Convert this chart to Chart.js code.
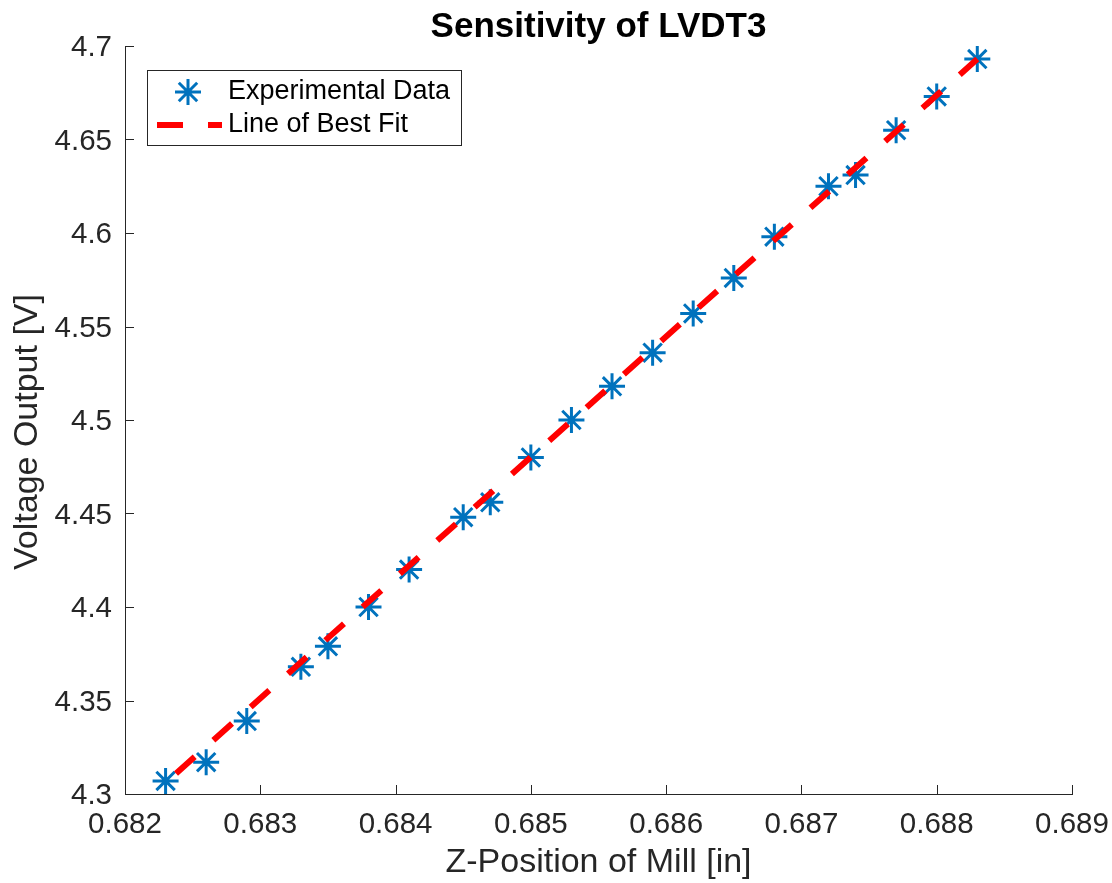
<!DOCTYPE html>
<html>
<head>
<meta charset="utf-8">
<title>Sensitivity of LVDT3</title>
<script src="https://cdn.jsdelivr.net/npm/chart.js@4.4.0/dist/chart.umd.min.js"></script>
<style>
    html, body { margin: 0; padding: 0; background: #fff; }
    #wrap { width: 1112px; height: 883px; }
</style>
</head>
<body>
<div id="wrap"><canvas id="lvdtChart"></canvas></div>
<script>
// Measured points: Z-position of the mill [in] vs LVDT3 output [V]
const zPosition = [0.6823, 0.6826, 0.6829, 0.6833, 0.6835, 0.6838, 0.6841, 0.6845, 0.6847, 0.6850, 0.6853,
                   0.6856, 0.6859, 0.6862, 0.6865, 0.6868, 0.6872, 0.6874, 0.6877, 0.6880, 0.6883];
const voltage = [4.307, 4.317, 4.339, 4.368, 4.379, 4.400, 4.420, 4.448, 4.456, 4.480, 4.500,
                 4.518, 4.536, 4.557, 4.576, 4.598, 4.625, 4.631, 4.655, 4.673, 4.693];

// Line of best fit (end points)
const fitZ = [0.6823, 0.6883];
const fitV = [4.306, 4.693];

// Axis ticks
const xTicks = [0.682, 0.683, 0.684, 0.685, 0.686, 0.687, 0.688, 0.689];
const yTicks = [4.3, 4.35, 4.4, 4.45, 4.5, 4.55, 4.6, 4.65, 4.7];

const FONT = "'Liberation Sans', Arial, Helvetica, sans-serif";
const AXIS_COLOR = '#262626';
const BLUE = '#0072BD';
const RED = '#FF0000';

// MATLAB style tick marks pointing into the plot
const insideTicks = {
    id: 'insideTicks',
    afterDraw(chart) {
        const { ctx, chartArea } = chart;
        const xs = chart.scales.x;
        const ys = chart.scales.y;
        ctx.save();
        ctx.strokeStyle = AXIS_COLOR;
        ctx.lineWidth = 1;
        ctx.beginPath();
        for (const v of xTicks) {
            const px = Math.round(xs.getPixelForValue(v)) + 0.5;
            ctx.moveTo(px, chartArea.bottom);
            ctx.lineTo(px, chartArea.bottom - 9);
        }
        for (const v of yTicks) {
            const py = Math.round(ys.getPixelForValue(v)) + 0.5;
            ctx.moveTo(chartArea.left, py);
            ctx.lineTo(chartArea.left + 9, py);
        }
        ctx.stroke();

        // y axis label, sits a little below the middle of the axis like the original
        ctx.fillStyle = AXIS_COLOR;
        ctx.font = '34px ' + FONT;
        ctx.textAlign = 'center';
        ctx.textBaseline = 'middle';
        ctx.translate(28, (chartArea.top + chartArea.bottom) / 2 + 12);
        ctx.rotate(-Math.PI / 2);
        ctx.fillText('Voltage Output [V]', 0, 0);
        ctx.restore();
    }
};

// Boxed legend in the upper left corner
const boxLegend = {
    id: 'boxLegend',
    afterDraw(chart) {
        const ctx = chart.ctx;
        const left = 147, top = 70, w = 314, h = 75;
        ctx.save();
        ctx.fillStyle = '#fff';
        ctx.fillRect(left, top, w, h);
        ctx.strokeStyle = AXIS_COLOR;
        ctx.lineWidth = 1;
        ctx.strokeRect(left + 0.5, top + 0.5, w, h);

        // asterisk marker
        ctx.strokeStyle = BLUE;
        ctx.lineWidth = 3;
        Chart.helpers.drawPoint(ctx, { pointStyle: 'star', radius: 13, rotation: 0, borderWidth: 3 }, 188, 92);

        // dashed red line
        ctx.beginPath();
        ctx.strokeStyle = RED;
        ctx.lineWidth = 6;
        ctx.lineCap = 'butt';
        ctx.setLineDash([26, 25]);
        ctx.moveTo(157, 125);
        ctx.lineTo(222, 125);
        ctx.stroke();
        ctx.setLineDash([]);

        ctx.fillStyle = '#000';
        ctx.font = '27px ' + FONT;
        ctx.textAlign = 'left';
        ctx.textBaseline = 'middle';
        ctx.fillText('Experimental Data', 228, 92);
        ctx.fillText('Line of Best Fit', 228, 125);
        ctx.restore();
    }
};

document.addEventListener('DOMContentLoaded', () => {
    const ctx = document.getElementById('lvdtChart').getContext('2d');

    new Chart(ctx, {
        type: 'scatter',
        data: {
            datasets: [
                {
                    label: 'Line of Best Fit',
                    data: fitZ.map((z, i) => ({ x: z, y: fitV[i] })),
                    showLine: true,
                    borderColor: RED,
                    borderWidth: 6,
                    borderDash: [25, 25],
                    borderDashOffset: 36,
                    borderCapStyle: 'butt',
                    pointRadius: 0,
                    order: 0
                },
                {
                    label: 'Experimental Data',
                    data: zPosition.map((z, i) => ({ x: z, y: voltage[i] })),
                    pointStyle: 'star',
                    pointRadius: 13,
                    pointBorderWidth: 3,
                    pointBorderColor: BLUE,
                    pointBackgroundColor: BLUE,
                    order: 1
                }
            ]
        },
        options: {
            responsive: true,
            maintainAspectRatio: false,
            animation: false,
            events: [],
            layout: {
                padding: { top: 0, right: 40, bottom: 0, left: 0 }
            },
            plugins: {
                legend: { display: false },
                tooltip: { enabled: false },
                title: {
                    display: true,
                    text: 'Sensitivity of LVDT3',
                    fullSize: false,
                    color: '#000',
                    font: { family: FONT, size: 35, weight: 'bold', lineHeight: 1 },
                    padding: { top: 10, bottom: 1 }
                }
            },
            scales: {
                x: {
                    type: 'linear',
                    min: 0.682,
                    max: 0.689,
                    afterBuildTicks: s => { s.ticks = xTicks.map(v => ({ value: v })); },
                    afterFit: s => { s.height = 89; s.paddingLeft = 0; s.paddingRight = 0; },
                    grid: { display: false, drawTicks: false },
                    border: { display: true, color: AXIS_COLOR, width: 1 },
                    ticks: {
                        color: AXIS_COLOR,
                        padding: 13,
                        maxRotation: 0,
                        autoSkip: false,
                        font: { family: FONT, size: 29.5 },
                        callback: v => String(v)
                    },
                    title: {
                        display: true,
                        text: 'Z-Position of Mill [in]',
                        color: AXIS_COLOR,
                        font: { family: FONT, size: 34 },
                        padding: { top: 0, bottom: 0 }
                    }
                },
                y: {
                    type: 'linear',
                    min: 4.3,
                    max: 4.7,
                    afterBuildTicks: s => { s.ticks = yTicks.map(v => ({ value: v })); },
                    afterFit: s => { s.width = 125; s.paddingTop = 0; s.paddingBottom = 0; },
                    grid: { display: false, drawTicks: false },
                    border: { display: true, color: AXIS_COLOR, width: 1 },
                    ticks: {
                        color: AXIS_COLOR,
                        padding: 13,
                        labelOffset: 2,
                        autoSkip: false,
                        font: { family: FONT, size: 29.5 },
                        callback: v => String(v)
                    }
                }
            }
        },
        plugins: [insideTicks, boxLegend]
    });
});
</script>
</body>
</html>
